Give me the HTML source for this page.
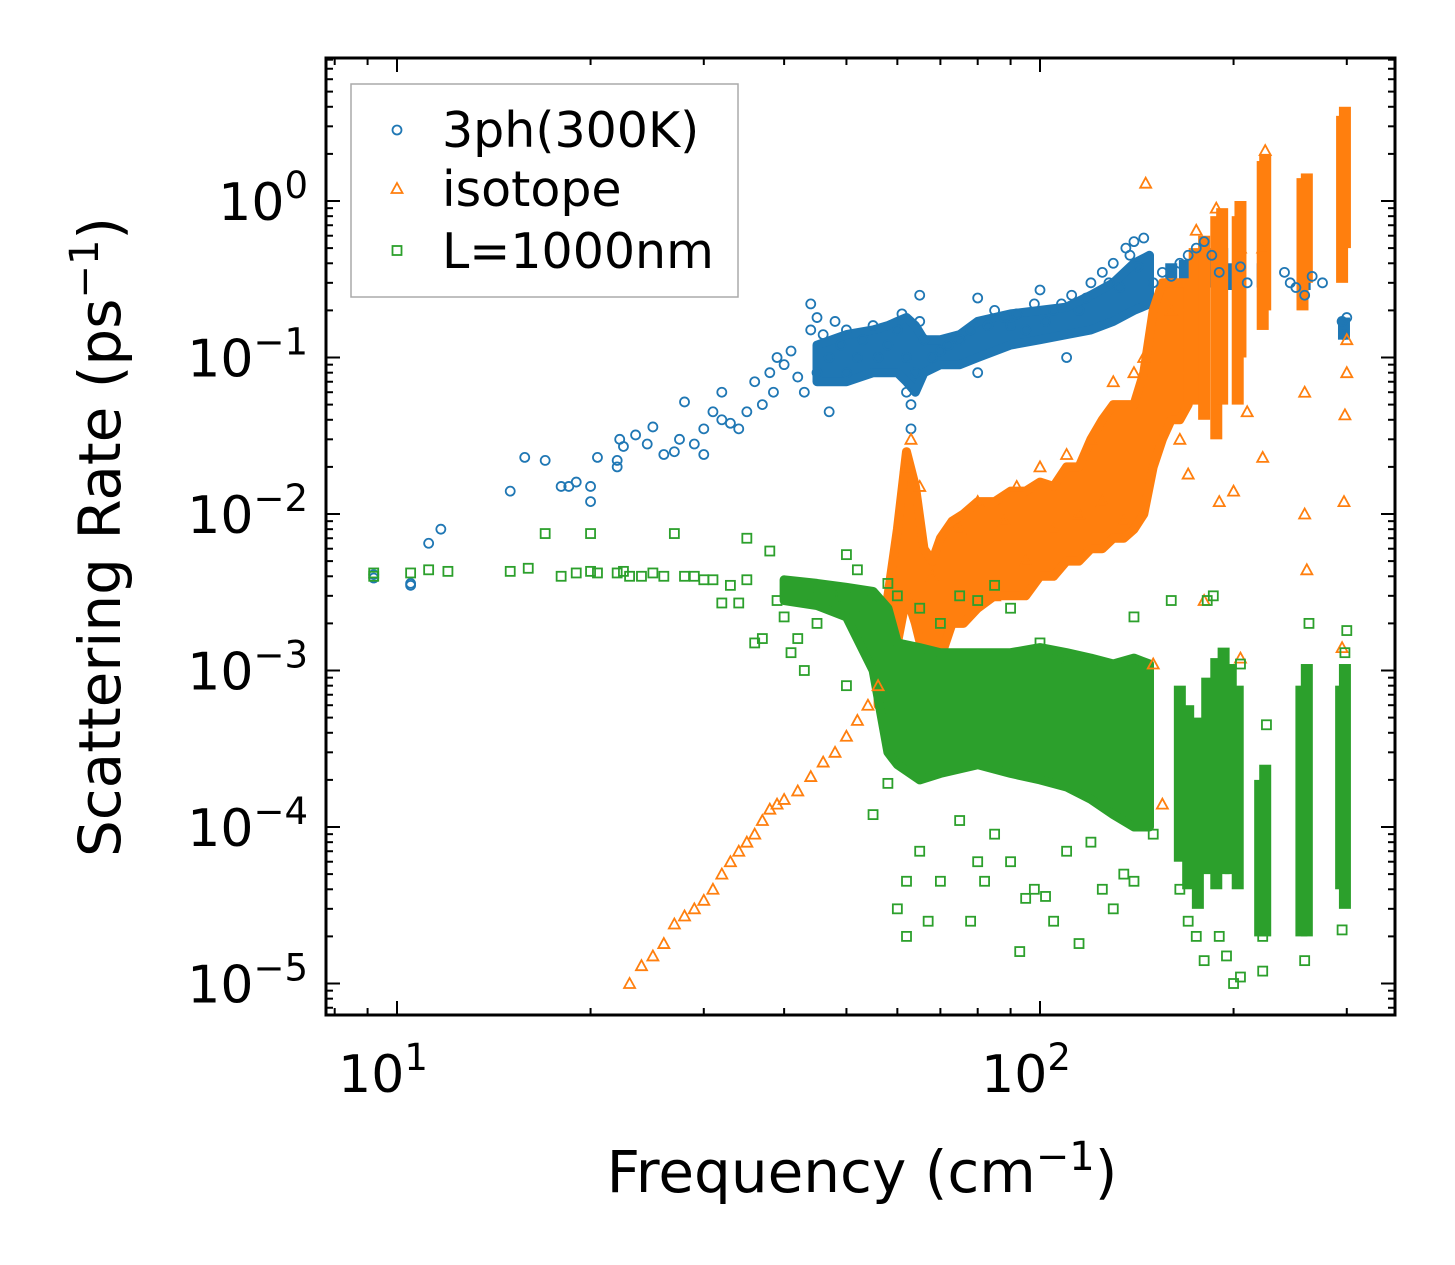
<!DOCTYPE html>
<html><head><meta charset="utf-8"><style>
body{margin:0;background:#fff;}
svg{display:block;font-family:"DejaVu Sans","Liberation Sans",sans-serif;}
</style></head><body>
<svg id="chart" width="1455" height="1265" viewBox="0 0 1455 1265" xmlns="http://www.w3.org/2000/svg">
<rect x="0" y="0" width="1455" height="1265" fill="#fff"/>
<g id="bands"></g>
<g id="marks"></g>
<g id="axes"></g>
<text x="862" y="1192" font-size="58" text-anchor="middle">Frequency (cm<tspan dy="-22" font-size="40">−1</tspan><tspan dy="22">)</tspan></text>
<text transform="translate(120,537) rotate(-90)" font-size="58" text-anchor="middle">Scattering Rate (ps<tspan dy="-22" font-size="40">−1</tspan><tspan dy="22">)</tspan></text>
<g>
<rect x="351" y="84" width="387" height="213" fill="#fff" stroke="#aaa" stroke-width="1.5"/>
<circle cx="397" cy="130" r="4.5" fill="none" stroke="#1f77b4" stroke-width="1.8"/>
<text x="442" y="147" font-size="49">3ph(300K)</text>
<polygon points="397,183 402.5,193 391.5,193" fill="none" stroke="#ff7f0e" stroke-width="1.8"/>
<text x="442" y="206" font-size="49">isotope</text>
<rect x="392.5" y="246" width="9" height="9" fill="none" stroke="#2ca02c" stroke-width="1.8"/>
<text x="442" y="268" font-size="49">L=1000nm</text>
</g>
</svg>
<script>
const xTicks=[10,100];
const xTickLabels=["1","2"];
const yTicks=[1,0.1,0.01,0.001,0.0001,0.00001];
const yTickLabels=["0","−1","−2","−3","−4","−5"];

const freq3ph=[9.2,9.2,10.5,10.5,11.2,11.7,15,15.8,17,18,18.5,19,20,20,20.5,22,22,22.2,22.5,23.5,24.5,25,26,27,27.5,28,29,30,30,31,32,32,33,34,35,36,37,38,38.5,39,40,41,42,43,44,44,45,45,46,47,47,48,49,50,50,52,53,55,56,58,60,61,62,62,63,63,64,65,65,66,68,70,72,75,78,80,80,83,85,88,90,92,95,98,100,102,105,108,110,112,115,118,120,125,128,130,133,136,138,140,142,145,150,155,160,165,170,175,180,185,190,205,210,240,245,250,258,265,275,295,297,300];
const rate3ph=[0.0041,0.0039,0.0036,0.0035,0.0065,0.008,0.014,0.023,0.022,0.015,0.015,0.016,0.012,0.015,0.023,0.02,0.022,0.03,0.027,0.032,0.028,0.036,0.024,0.025,0.03,0.052,0.028,0.024,0.035,0.045,0.06,0.04,0.038,0.035,0.045,0.07,0.05,0.08,0.06,0.1,0.09,0.11,0.075,0.06,0.22,0.15,0.18,0.08,0.14,0.1,0.045,0.17,0.12,0.08,0.15,0.1,0.13,0.16,0.1,0.12,0.15,0.19,0.1,0.06,0.05,0.035,0.08,0.25,0.17,0.13,0.1,0.11,0.12,0.13,0.15,0.24,0.08,0.16,0.2,0.18,0.16,0.19,0.15,0.22,0.27,0.17,0.2,0.22,0.1,0.25,0.2,0.24,0.3,0.35,0.3,0.4,0.28,0.5,0.45,0.55,0.38,0.58,0.3,0.35,0.33,0.4,0.45,0.5,0.55,0.45,0.35,0.38,0.3,0.35,0.3,0.28,0.25,0.33,0.3,0.17,0.14,0.18];
const band3phFreq=[45,50,55,58,60,62,64,66,70,75,80,90,100,110,120,130,140,148];
const band3phLo=[0.07,0.07,0.08,0.08,0.08,0.07,0.06,0.08,0.09,0.09,0.1,0.12,0.13,0.14,0.15,0.17,0.2,0.22];
const band3phHi=[0.12,0.14,0.15,0.16,0.17,0.18,0.16,0.13,0.13,0.14,0.17,0.19,0.2,0.21,0.25,0.3,0.4,0.45];

const freqIso=[23,24,25,26,27,28,29,30,31,32,33,34,35,36,37,38,39,40,42,44,46,48,50,52,54,56,60,62,63,65,68,70,75,80,85,88,92,95,100,105,110,115,120,125,130,135,140,145,146,150,155,160,165,170,175,180,188,190,200,205,205,210,222,222,224,258,258,260,295,297,298,300,300];
const rateIso=[1e-5,1.3e-5,1.5e-5,1.8e-5,2.4e-5,2.7e-5,3e-5,3.4e-5,4e-5,5e-5,6e-5,7e-5,8e-5,9e-5,1.1e-4,1.3e-4,1.4e-4,1.5e-4,1.7e-4,2.1e-4,2.6e-4,3e-4,3.8e-4,4.8e-4,6e-4,8e-4,0.003,0.02,0.03,0.015,0.004,0.002,0.008,0.012,0.003,0.009,0.015,0.005,0.02,0.008,0.024,0.01,0.03,0.012,0.07,0.009,0.08,0.1,1.3,0.0011,0.00014,0.2,0.03,0.018,0.65,0.0028,0.9,0.012,0.014,0.5,0.0012,0.045,0.5,0.023,2.1,0.06,0.01,0.0044,0.0014,0.012,0.043,0.08,0.13];
const bandIsoFreq=[56,58,60,62,64,66,68,70,73,76,80,85,90,95,100,105,110,115,120,125,130,135,140,145,150,155,160,165,170];
const bandIsoLo=[0.0006,0.0009,0.0015,0.003,0.002,0.0012,0.001,0.0012,0.002,0.002,0.0025,0.003,0.003,0.003,0.004,0.004,0.005,0.005,0.006,0.006,0.007,0.007,0.008,0.01,0.02,0.03,0.04,0.04,0.05];
const bandIsoHi=[0.0011,0.003,0.008,0.025,0.015,0.006,0.005,0.007,0.009,0.01,0.012,0.012,0.014,0.014,0.016,0.015,0.02,0.02,0.03,0.04,0.05,0.05,0.05,0.08,0.2,0.3,0.3,0.3,0.3];
const colIsoFreq=[174,180,188,192,203,205,222,224,256,260,295,298];
const colIsoLo=[0.05,0.04,0.03,0.05,0.05,0.1,0.15,0.2,0.2,0.3,0.3,0.5];
const colIsoHi=[0.5,0.6,0.8,0.9,0.8,1,1.8,2,1.4,1.5,3.5,4];

const freqBd=[9.2,9.2,10.5,11.2,12,15,16,17,18,19,20,20.5,20,22,22.5,23,24,25,26,27,28,29,30,31,32,33,34,35,35,36,37,38,39,40,41,42,43,45,45,48,49,50,50,52,53,55,58,55,58,60,62,62,65,67,70,75,78,80,82,85,90,93,95,98,102,105,110,115,120,125,130,135,140,150,60,65,70,75,80,85,90,100,110,140,160,182,186,165,170,175,180,190,195,200,205,205,222,222,225,258,260,262,295,298,300,298];
const rateBd=[0.0042,0.004,0.0042,0.0044,0.0043,0.0043,0.0045,0.0075,0.004,0.0042,0.0075,0.0042,0.0043,0.0042,0.0043,0.004,0.004,0.0042,0.004,0.0075,0.004,0.004,0.0038,0.0038,0.0027,0.0035,0.0027,0.0038,0.007,0.0015,0.0016,0.0058,0.0028,0.0022,0.0013,0.0016,0.001,0.002,0.0033,0.0028,0.003,0.0055,0.0008,0.0044,0.0025,0.0028,0.0036,1.2e-4,1.9e-4,3e-5,2e-5,4.5e-5,7e-5,2.5e-5,4.5e-5,1.1e-4,2.5e-5,6e-5,4.5e-5,9e-5,6e-5,1.6e-5,3.5e-5,4e-5,3.6e-5,2.5e-5,7e-5,1.8e-5,8e-5,4e-5,3e-5,5e-5,4.5e-5,9e-5,0.003,0.0025,0.002,0.003,0.0028,0.0035,0.0025,0.0015,0.0012,0.0022,0.0028,0.0028,0.003,4e-5,2.5e-5,2e-5,1.4e-5,2e-5,1.5e-5,1e-5,1.1e-5,0.0011,1.2e-5,2e-5,4.5e-4,1.4e-5,2e-4,0.002,2.2e-5,3.5e-5,0.0018,0.0013];
const bandBdFreq=[40,45,50,55,58,60,65,70,80,90,100,110,120,130,140,148];
const bandBdLo=[0.0028,0.0026,0.0022,0.001,0.0003,0.00025,0.0002,0.00022,0.00025,0.00022,0.0002,0.00018,0.00015,0.00012,0.0001,0.0001];
const bandBdHi=[0.0038,0.0036,0.0034,0.0032,0.0025,0.0015,0.0014,0.0013,0.0013,0.0013,0.0014,0.0013,0.0012,0.0011,0.0012,0.0011];
const colBdFreq=[165,170,176,182,188,193,198,203,220,224,255,260,294,298];
const colBdLo=[0.00006,0.00004,0.00003,0.00005,0.00004,0.00005,0.00005,0.00004,0.00002,0.00002,0.00002,0.00002,0.00004,0.00003];
const colBdHi=[0.0008,0.0006,0.0005,0.0009,0.0012,0.0014,0.0011,0.0008,0.0002,0.00025,0.0008,0.0011,0.0008,0.0011];

const X0=397,DX=643,Y0=201,DY=156.5;
const L=326,R=1395,T=58,B=1015;
function xs(v){return X0+DX*(Math.log10(v)-1);}
function ys(v){return Y0-DY*Math.log10(v);}
const NS="http://www.w3.org/2000/svg";
function mk(tag,attrs,parent){const e=document.createElementNS(NS,tag);for(const k in attrs)e.setAttribute(k,attrs[k]);parent.appendChild(e);return e;}
const bands=document.getElementById('bands'),marks=document.getElementById('marks'),axes=document.getElementById('axes');

function bandPoly(f,lo,hi,color,name){
  const pts=[];
  for(let i=0;i<f.length;i++)pts.push(xs(f[i]).toFixed(1)+","+ys(hi[i]).toFixed(1));
  for(let i=f.length-1;i>=0;i--)pts.push(xs(f[i]).toFixed(1)+","+ys(lo[i]).toFixed(1));
  const p=mk('polygon',{points:pts.join(' '),fill:color,stroke:color,'stroke-width':9,'stroke-linejoin':'round'},bands);
  
  
}
function cols(f,lo,hi,color,name){
  for(let i=0;i<f.length;i++){
    const r=mk('rect',{x:xs(f[i])-6,y:ys(hi[i]),width:12,height:ys(lo[i])-ys(hi[i]),fill:color},bands);
    
    
  }
}
bandPoly(band3phFreq,band3phLo,band3phHi,'#1f77b4','band-3ph');
cols([160,168,176,184,192,200],[0.28,0.3,0.3,0.28,0.28,0.27],[0.4,0.42,0.45,0.5,0.5,0.4],'#1f77b4','column-3ph');
cols([222,258,297],[0.28,0.27,0.13],[0.4,0.36,0.18],'#1f77b4','column-3ph');
bandPoly(bandIsoFreq,bandIsoLo,bandIsoHi,'#ff7f0e','band-isotope');
cols(colIsoFreq,colIsoLo,colIsoHi,'#ff7f0e','column-isotope');
bandPoly(bandBdFreq,bandBdLo,bandBdHi,'#2ca02c','band-boundary');
cols(colBdFreq,colBdLo,colBdHi,'#2ca02c','column-boundary');

for(let i=0;i<freq3ph.length;i++){
  const c=mk('circle',{cx:xs(freq3ph[i]),cy:ys(rate3ph[i]),r:4.5,fill:'none',stroke:'#1f77b4','stroke-width':1.8},marks);
  
  
}
for(let i=0;i<freqIso.length;i++){
  const x=xs(freqIso[i]),y=ys(rateIso[i]);
  const p=mk('polygon',{points:`${x},${y-5.5} ${x+5.5},${y+4.5} ${x-5.5},${y+4.5}`,fill:'none',stroke:'#ff7f0e','stroke-width':1.8},marks);
  
  
}
for(let i=0;i<freqBd.length;i++){
  const x=xs(freqBd[i]),y=ys(rateBd[i]);
  const p=mk('rect',{x:x-4.5,y:y-4.5,width:9,height:9,fill:'none',stroke:'#2ca02c','stroke-width':1.8},marks);
  
  
}

const fr=mk('rect',{x:L,y:T,width:R-L,height:B-T,fill:'none',stroke:'#000','stroke-width':3},axes);


function tick(x1,y1,x2,y2){mk('line',{x1,y1,x2,y2,stroke:'#000','stroke-width':2},axes);}
for(let d=0;d<4;d++){
  for(let m=1;m<10;m++){
    const v=m*Math.pow(10,d);const x=xs(v);
    if(x<L+1||x>R-1)continue;
    const len=m===1?14:7;
    tick(x,B,x,B-len);tick(x,T,x,T+len);
  }
}
for(let e=-6;e<1;e++){
  for(let m=1;m<10;m++){
    const v=m*Math.pow(10,e);const y=ys(v);
    if(y<T+1||y>B-1)continue;
    const len=m===1?14:7;
    tick(L,y,L+len,y);tick(R,y,R-len,y);
  }
}
xTicks.forEach((v,i)=>{
  const t=mk('text',{x:xs(v)-14,y:1092,'font-size':52,'text-anchor':'middle'},axes);
  t.textContent='10';
  const s=mk('tspan',{dy:-22,'font-size':37},t);s.textContent=xTickLabels[i];
  
  
});
yTicks.forEach((v,i)=>{
  const t=mk('text',{x:308,y:ys(v)+19,'font-size':52,'text-anchor':'end'},axes);
  t.textContent='10';
  const s=mk('tspan',{dy:-22,'font-size':37},t);s.textContent=yTickLabels[i];
  
  
});
</script>
</body></html>
